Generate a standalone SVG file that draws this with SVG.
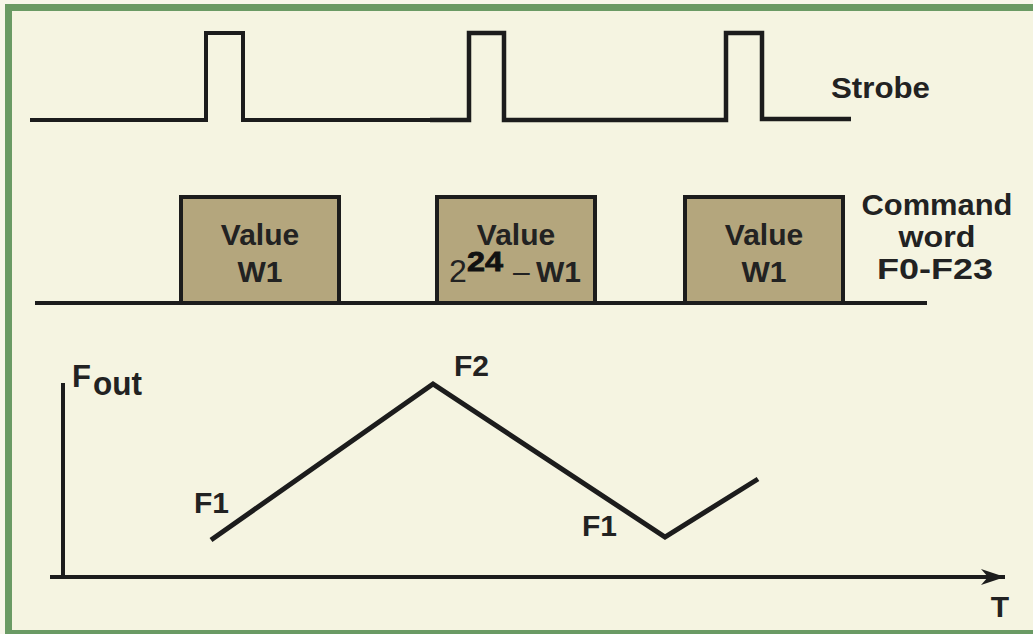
<svg xmlns="http://www.w3.org/2000/svg" width="1033" height="634" viewBox="0 0 1033 634">
  <defs>
    <style>
      .wire { fill: none; stroke: #1c1c1c; stroke-width: 4; stroke-linejoin: miter; stroke-linecap: butt; }
      .ramp { fill: none; stroke: #1c1c1c; stroke-width: 5; stroke-linejoin: miter; }
      .word { fill: #b4a67d; stroke: #1c1c1c; stroke-width: 4; }
      .lbl { font-family: "Liberation Sans", Arial, sans-serif; font-weight: bold; font-size: 30px; fill: #222; }
      .mid { text-anchor: middle; }
    </style>
    <marker id="arrow" markerWidth="26" markerHeight="18" refX="24" refY="9" orient="auto" markerUnits="userSpaceOnUse">
      <path d="M0,1 L24,9 L0,17 L7,9 Z" fill="#1c1c1c"/>
    </marker>
  </defs>

  <!-- panel -->
  <rect x="0" y="0" width="1033" height="634" fill="#f7f6ea"/>
  <rect x="8.5" y="7.5" width="1040" height="626" fill="#f5f4e1" stroke="#6a9a64" stroke-width="7"/>

  <!-- strobe pulse train -->
  <g id="strobe">
    <path class="wire" d="M30,120 H206 V33 H243 V120 H430"/>
    <path class="wire" d="M430,120 H469 V33 H504 V120 H726 V33 H762 V119 H851" style="stroke-width:4.5"/>
    <text class="lbl" x="831" y="98" textLength="99" lengthAdjust="spacingAndGlyphs">Strobe</text>
  </g>

  <!-- command word bus -->
  <g id="command-word">
    <line class="wire" x1="35" y1="303" x2="927" y2="303"/>
    <text class="lbl mid" x="937" y="215" textLength="151" lengthAdjust="spacingAndGlyphs">Command</text>
    <text class="lbl mid" x="937" y="247" textLength="77" lengthAdjust="spacingAndGlyphs">word</text>
    <text class="lbl mid" x="935" y="279" textLength="116" lengthAdjust="spacingAndGlyphs">F0-F23</text>
  </g>

  <g id="word1">
    <rect class="word" x="181" y="197" width="158" height="106"/>
    <text class="lbl mid" x="260" y="245">Value</text>
    <text class="lbl mid" x="260" y="282">W1</text>
  </g>

  <g id="word2">
    <rect class="word" x="437" y="197" width="158" height="106"/>
    <text class="lbl mid" x="516" y="245">Value</text>
    <text class="lbl" x="449" y="282" style="font-weight:normal;font-size:32px">2</text>
    <text class="lbl" x="467" y="271" textLength="36" lengthAdjust="spacingAndGlyphs" style="font-size:27px;font-weight:900;fill:#111;stroke:#111;stroke-width:0.8">24</text>
    <text class="lbl" x="513" y="282" style="font-weight:normal">–</text>
    <text class="lbl" x="536" y="282">W1</text>
  </g>

  <g id="word3">
    <rect class="word" x="685" y="197" width="158" height="106"/>
    <text class="lbl mid" x="764" y="245">Value</text>
    <text class="lbl mid" x="764" y="282">W1</text>
  </g>

  <!-- frequency vs time axes -->
  <g id="axes">
    <line class="wire" x1="63" y1="383" x2="63" y2="578"/>
    <line class="wire" x1="50" y1="577" x2="1005" y2="577" marker-end="url(#arrow)"/>
    <text class="lbl" x="72" y="387" style="font-size:31px">F</text>
    <text class="lbl" x="93" y="395" textLength="49" lengthAdjust="spacingAndGlyphs" style="font-size:34px">out</text>
    <text class="lbl mid" x="1000" y="617">T</text>
  </g>

  <!-- output frequency ramp -->
  <g id="fout">
    <polyline class="ramp" points="211,540 433,384 665,537 758,479"/>
    <text class="lbl" x="194" y="513">F1</text>
    <text class="lbl" x="454" y="376">F2</text>
    <text class="lbl" x="582" y="536">F1</text>
  </g>
</svg>
